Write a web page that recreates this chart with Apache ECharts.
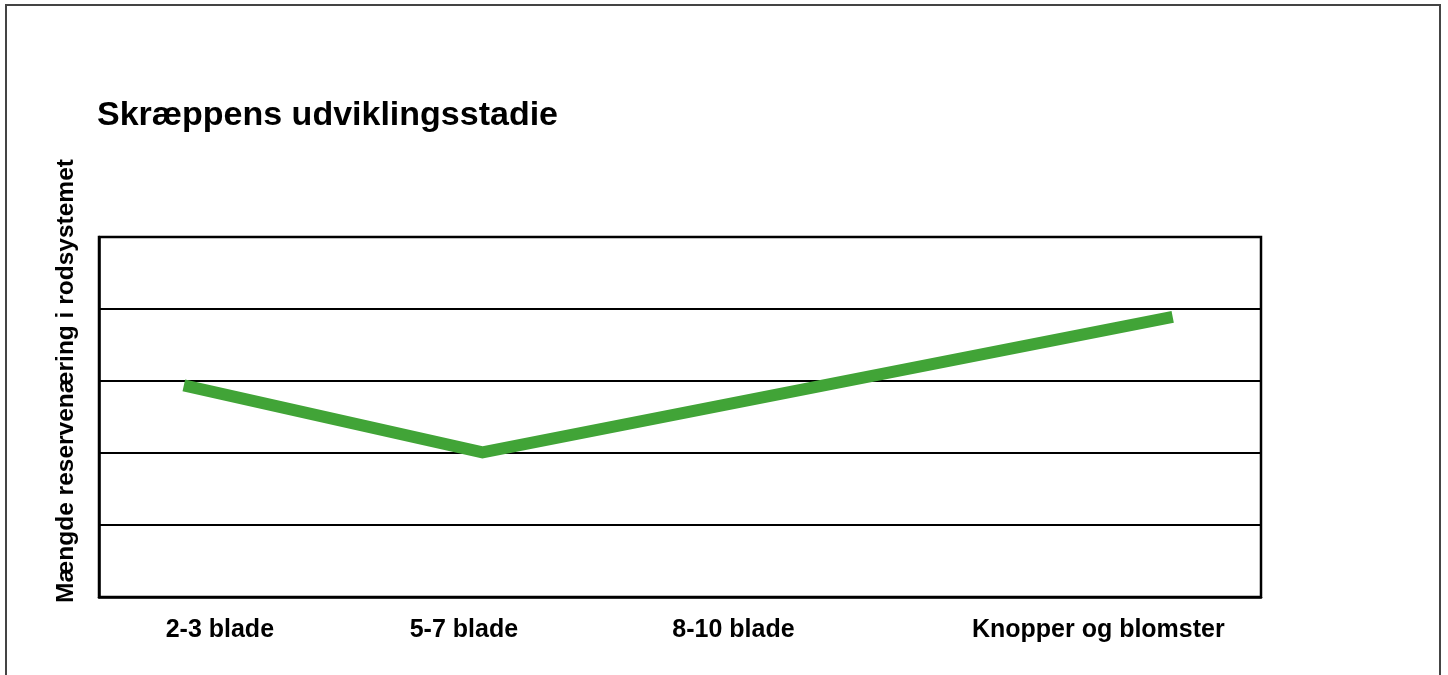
<!DOCTYPE html>
<html>
<head>
<meta charset="utf-8">
<script src="https://cdn.jsdelivr.net/npm/echarts@6/dist/echarts.min.js"></script>
<style>
html,body{margin:0;padding:0;background:#fff;}
#chart{width:1448px;height:675px;}
</style>
</head>
<body>
<div id="chart"></div>
<script>
// Data
var titleText = 'Skræppens udviklingsstadie';
var yAxisName = 'Mængde reservenæring i rodsystemet';
var stageLabels = ['2-3 blade', '5-7 blade', '8-10 blade', 'Knopper og blomster'];
var stageLabelPos = [10.4, 31.4, 54.6, 86.0];   // positions on a 0-100 x scale
var pointX = [7.3, 33.0, 92.4];
var pointY = [2.94, 2.01, 3.89];

var chart = echarts.init(document.getElementById('chart'));
var FONT = '"Liberation Sans", Arial, sans-serif';

var seriesData = pointX.map(function (x, i) { return [x, pointY[i]]; });

chart.setOption({
  backgroundColor: '#ffffff',
  animation: false,
  title: {
    text: titleText,
    left: 92,
    top: 94,
    textStyle: { fontFamily: FONT, fontWeight: 'bold', fontSize: 34, color: '#000' }
  },
  grid: {
    left: 99, top: 237, right: 187, bottom: 78,
    show: true, borderColor: '#000', borderWidth: 2.5, backgroundColor: 'transparent'
  },
  xAxis: {
    type: 'value',
    min: 0, max: 100,
    splitLine: { show: false },
    axisLine: { show: true, lineStyle: { color: '#000', width: 2.5 } },
    axisTick: { show: false },
    axisLabel: {
      customValues: stageLabelPos,
      formatter: function (v) {
        var i = stageLabelPos.indexOf(v);
        return i >= 0 ? stageLabels[i] : '';
      },
      margin: 21,
      fontFamily: FONT, fontWeight: 'bold', fontSize: 25, color: '#000'
    }
  },
  yAxis: {
    type: 'value',
    min: 0, max: 5, interval: 1,
    axisLine: { show: true, lineStyle: { color: '#000', width: 2.5 } },
    axisTick: { show: false },
    axisLabel: { show: false },
    splitLine: { show: true, lineStyle: { color: '#000', width: 2 } }
  },
  graphic: [
    {
      type: 'rect',
      shape: { x: 6, y: 5, width: 1434, height: 700 },
      style: { fill: 'none', stroke: '#444', lineWidth: 2 },
      silent: true
    },
    {
      type: 'text',
      x: 66, y: 381,
      rotation: Math.PI / 2,
      style: {
        text: yAxisName,
        fontFamily: FONT, fontWeight: 'bold', fontSize: 24.5, fill: '#000',
        align: 'center', verticalAlign: 'middle'
      }
    }
  ],
  series: [{
    type: 'line',
    data: seriesData,
    symbol: 'none',
    lineStyle: { color: '#41a437', width: 12, cap: 'butt', join: 'miter' }
  }]
});
</script>
</body>
</html>
